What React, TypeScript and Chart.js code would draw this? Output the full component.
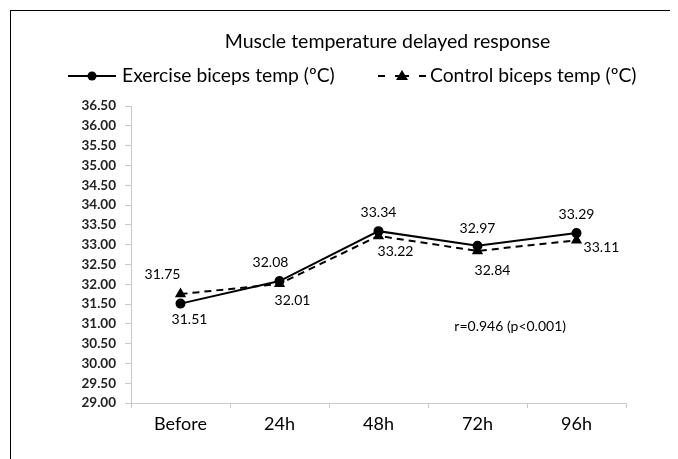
import React, { useEffect, useRef } from "react";
import { Chart, registerables } from "chart.js";

Chart.register(...registerables);

const categories = ["Before", "24h", "48h", "72h", "96h"];
const exerciseTemps = [31.51, 32.08, 33.34, 32.97, 33.29];
const controlTemps = [31.75, 32.01, 33.22, 32.84, 33.11];
const seriesNames = ["Exercise biceps temp (ºC)", "Control biceps temp (ºC)"];
const chartTitle = "Muscle temperature delayed response";
const noteText = "r=0.946 (p<0.001)";
const yMin = 29;
const yMax = 36.5;
const yStep = 0.5;

// label offsets (style only)
const exerciseLabelOffsets = [[9, 16], [-9, -19], [0, -19], [0, -17], [0, -19]];
const controlLabelOffsets = [[-18, -20], [13, 17], [17, 16], [15, 20], [25, 7]];

const FONT = "Lato, 'Open Sans', sans-serif";

const overlayPlugin = {
  id: "overlay",
  afterDraw(chart: any) {
    const ctx = chart.ctx;
    ctx.save();
    ctx.fillStyle = "#000";
    ctx.textAlign = "center";
    ctx.textBaseline = "middle";
    // title
    ctx.font = `19.5px ${FONT}`;
    ctx.fillText(chartTitle, 376.5, 31);

    // legend
    const ly = 65;
    ctx.strokeStyle = "#000";
    ctx.lineWidth = 2;
    ctx.setLineDash([]);
    ctx.beginPath();
    ctx.moveTo(57, ly);
    ctx.lineTo(105, ly);
    ctx.stroke();
    ctx.beginPath();
    ctx.arc(81, ly, 4.5, 0, Math.PI * 2);
    ctx.fill();
    ctx.font = `19.3px ${FONT}`;
    ctx.textAlign = "left";
    ctx.fillText(seriesNames[0], 111, ly);

    const segs = [[367, 374], [384, 398], [408, 415]];
    segs.forEach(([a, b]) => {
      ctx.beginPath();
      ctx.moveTo(a, ly);
      ctx.lineTo(b, ly);
      ctx.stroke();
    });
    ctx.beginPath();
    ctx.moveTo(391, ly - 6);
    ctx.lineTo(397, ly + 4);
    ctx.lineTo(385, ly + 4);
    ctx.closePath();
    ctx.fill();
    ctx.fillText(seriesNames[1], 419, ly);

    // data labels
    ctx.font = `14px ${FONT}`;
    ctx.textAlign = "center";
    const offsets = [exerciseLabelOffsets, controlLabelOffsets];
    chart.data.datasets.forEach((ds: any, di: number) => {
      const meta = chart.getDatasetMeta(di);
      meta.data.forEach((pt: any, i: number) => {
        const [dx, dy] = offsets[di][i];
        ctx.fillText(ds.data[i].toFixed(2), pt.x + dx, pt.y + dy);
      });
    });

    // note
    const xs = chart.scales.x;
    const ys = chart.scales.y;
    ctx.font = `14px ${FONT}`;
    ctx.fillText(noteText, xs.getPixelForValue(3.33), ys.getPixelForValue(30.92));
    ctx.restore();
  },
};

export default function App() {
  const ref = useRef<HTMLCanvasElement | null>(null);
  useEffect(() => {
    if (!ref.current) return;
    const chart = new Chart(ref.current, {
      type: "line",
      data: {
        labels: categories,
        datasets: [
          {
            label: seriesNames[0],
            data: exerciseTemps,
            borderColor: "#000",
            backgroundColor: "#000",
            borderWidth: 2,
            pointStyle: "circle",
            pointRadius: 4,
            pointBackgroundColor: "#000",
            pointBorderColor: "#000",
            tension: 0,
          },
          {
            label: seriesNames[1],
            data: controlTemps,
            borderColor: "#000",
            backgroundColor: "#000",
            borderWidth: 2,
            borderDash: [7, 5],
            pointStyle: "triangle",
            pointRadius: 4.5,
            pointBackgroundColor: "#000",
            pointBorderColor: "#000",
            tension: 0,
          },
        ],
      },
      options: {
        animation: false,
        responsive: false,
        maintainAspectRatio: false,
        layout: { padding: { left: 0, right: 52, top: 95, bottom: 0 } },
        plugins: {
          legend: { display: false },
          title: { display: false },
          tooltip: { enabled: false },
        },
        scales: {
          x: {
            offset: true,
            grid: {
              offset: true,
              drawOnChartArea: false,
              drawTicks: true,
              tickLength: 5,
              color: "#c8c8c8",
            },
            border: { display: true, color: "#c8c8c8" },
            ticks: {
              color: "#000",
              font: { family: FONT, size: 18 },
              padding: 5,
            },
            afterFit: (s: any) => {
              s.height = 56;
            },
          },
          y: {
            min: yMin,
            max: yMax,
            grid: {
              drawOnChartArea: false,
              drawTicks: true,
              tickLength: 6,
              color: "#c8c8c8",
            },
            border: { display: true, color: "#c8c8c8" },
            ticks: {
              stepSize: yStep,
              color: "#222",
              font: { family: FONT, size: 13.5, weight: "bold" },
              padding: 9,
              callback: (v: any) => Number(v).toFixed(2),
            },
            afterFit: (s: any) => {
              s.width = 120;
            },
          },
        },
      },
      plugins: [overlayPlugin],
    });
    return () => chart.destroy();
  }, []);

  return (
    <div
      style={{
        marginLeft: 2,
        marginTop: 2,
        width: 667,
        height: 448,
        borderTop: "1.5px solid #000",
        borderLeft: "1.5px solid #000",
      }}
    >
      <canvas ref={ref} width={667} height={448} style={{ display: "block" }} />
    </div>
  );
}
